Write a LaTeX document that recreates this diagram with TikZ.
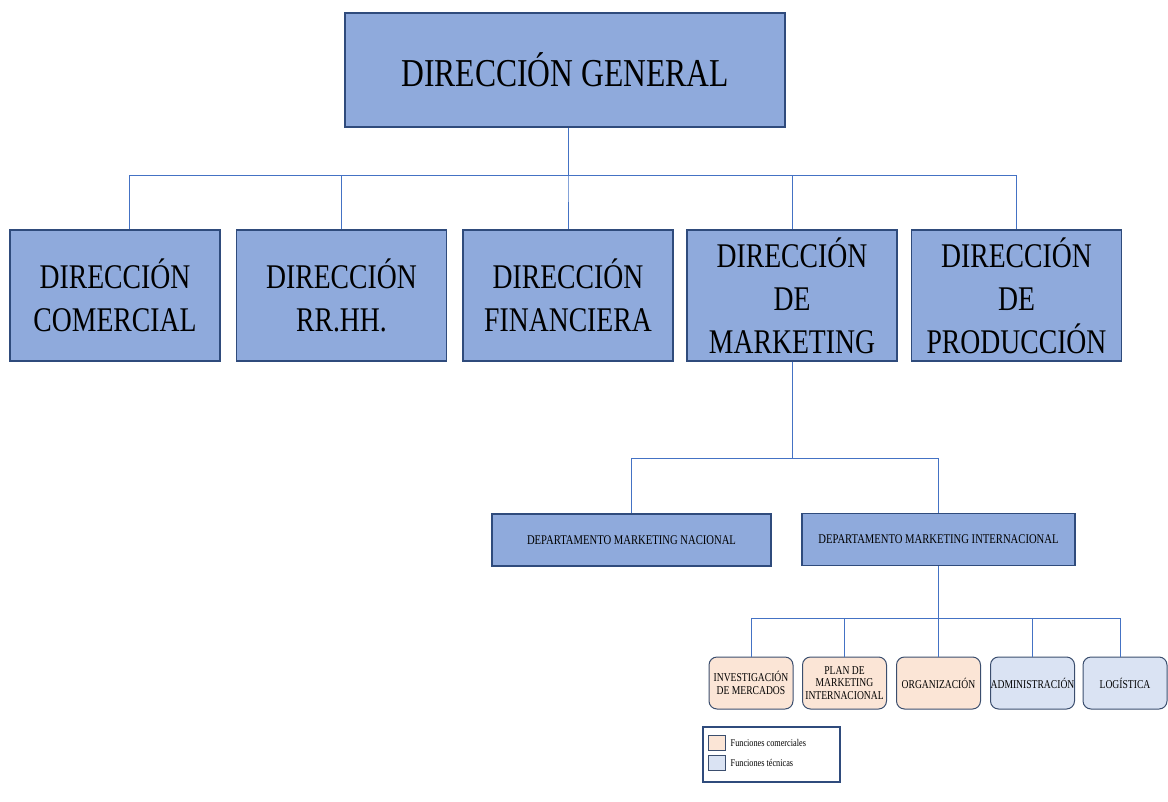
\documentclass[tikz,border=0pt]{standalone}
\usepackage{fontspec}
\setmainfont{Liberation Serif}[FakeStretch=0.8]
\definecolor{boxfill}{HTML}{8FAADC}
\definecolor{boxedge}{HTML}{2F4B7C}
\definecolor{linkc}{HTML}{4472C4}
\definecolor{peach}{HTML}{FBE5D6}
\definecolor{lightb}{HTML}{DAE3F3}
\definecolor{smalledge}{HTML}{3B4E6E}
\tikzset{
  bigbox/.style={draw=boxedge, fill=boxfill, line width=1.6pt, inner sep=0pt, align=center,
    minimum width=210pt, minimum height=131pt, font=\fontsize{34.6}{43}\selectfont},
  deptbox/.style={draw=boxedge, fill=boxfill, line width=1.4pt, inner sep=0pt, align=center,
    minimum height=52pt, font=\fontsize{13.3}{15}\selectfont},
  smallbox/.style={draw=smalledge, line width=1pt, rounded corners=8pt, inner sep=0pt, align=center,
    minimum width=84pt, minimum height=52pt, font=\fontsize{12}{12.5}\selectfont},
  swatch/.style={draw=smalledge, line width=1pt, minimum width=17pt, minimum height=15pt, inner sep=0pt},
  link/.style={draw=linkc, line width=0.9pt},
}
\begin{document}
\begin{tikzpicture}[x=1pt, y=-1pt]
\useasboundingbox (0,0) rectangle (1168,801);
% top
\node[bigbox, minimum width=440pt, minimum height=114pt, font=\fontsize{39.5}{45}\selectfont] (dg) at (565,70) {DIRECCIÓN GENERAL};
% row 2
\node[bigbox] (dc) at (115,295.5) {DIRECCIÓN\\COMERCIAL};
\node[bigbox] (dr) at (341.5,295.5) {DIRECCIÓN\\RR.HH.};
\node[bigbox] (df) at (568,295.5) {DIRECCIÓN\\FINANCIERA};
\node[bigbox] (dm) at (792,295.5) {DIRECCIÓN\\DE\\MARKETING};
\node[bigbox] (dp) at (1016.5,295.5) {DIRECCIÓN\\DE\\PRODUCCIÓN};
\path[link] ([xshift=3pt]dg.south) -- ++(0,48) -| ([xshift=14pt]dc.north);
\path[link] ([xshift=3pt]dg.south) -- ++(0,48) -| (dr.north);
\path[link] ([xshift=3pt]dg.south) -- ++(0,48) -| (df.north);
\path[link] ([xshift=3pt]dg.south) -- ++(0,48) -| (dm.north);
\path[link] ([xshift=3pt]dg.south) -- ++(0,48) -| (dp.north);
% departments
\node[deptbox, minimum width=279pt] (nac) at (631.5,540) {DEPARTAMENTO MARKETING NACIONAL};
\node[deptbox, minimum width=273pt] (int) at (938.5,539.5) {DEPARTAMENTO MARKETING INTERNACIONAL};
\path[link] (dm.south) -- ++(0,97) -| (nac.north);
\path[link] (dm.south) -- ++(0,97) -| (int.north);
% functions
\node[smallbox, fill=peach] (inv) at (751,683) {INVESTIGACIÓN\\DE MERCADOS};
\node[smallbox, fill=peach] (plan) at (844.5,683) {PLAN DE\\MARKETING\\INTERNACIONAL};
\node[smallbox, fill=peach] (org) at (938.5,683) {ORGANIZACIÓN};
\node[smallbox, fill=lightb] (adm) at (1032.5,683) {ADMINISTRACIÓN};
\node[smallbox, fill=lightb] (log) at (1125,683) {LOGÍSTICA};
\path[link] (int.south) -- ++(0,52) -| (inv.north);
\path[link] (int.south) -- ++(0,52) -| (plan.north);
\path[link] (int.south) -- ++(0,52) -| (org.north);
\path[link] (int.south) -- ++(0,52) -| (adm.north);
\path[link] (int.south) -- ++(0,52) -| ([xshift=-5pt]log.north);
% legend
\node[draw=boxedge, line width=1.2pt, minimum width=137pt, minimum height=55pt, inner sep=0pt] (leg) at (771.5,754.5) {};
\node[swatch, fill=peach] (sw1) at (716.5,742.5) {};
\node[swatch, fill=lightb] (sw2) at (716.5,762.5) {};
\node[anchor=west, inner sep=0pt, font=\fontsize{10.3}{11}\selectfont] (l1) at ([xshift=5pt]sw1.east) {Funciones comerciales};
\node[anchor=west, inner sep=0pt, font=\fontsize{10.3}{11}\selectfont] (l2) at ([xshift=5pt]sw2.east) {Funciones técnicas};
\end{tikzpicture}
\end{document}
